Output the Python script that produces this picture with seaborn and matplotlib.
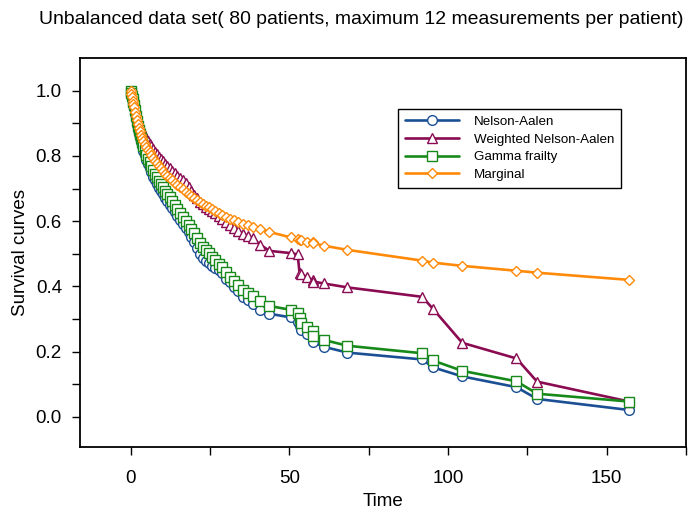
import numpy as np
import pandas as pd
import seaborn as sns
import matplotlib
matplotlib.use("Agg")
import matplotlib.pyplot as plt
from matplotlib.ticker import FixedLocator

# event times shared by all four curves
times = [0, 0.2, 0.4, 0.6, 0.8, 1.0, 1.3, 1.6, 1.9, 2.2, 2.5, 2.8, 3.2, 3.6, 4.0, 4.4,
         4.9, 5.4, 5.9, 6.4, 7.0, 7.6, 8.2, 8.8, 9.4, 10.1, 10.8, 11.5, 12.3, 13.1,
         13.9, 14.7, 15.5, 16.4, 17.3, 18.2, 19.1, 20.0, 20.9, 21.8, 22.7, 23.6, 24.6,
         25.6, 26.7, 27.8, 28.9, 30.1, 31.3, 32.5, 33.8, 35.3, 36.8, 38.4, 40.8, 43.7,
         50.5, 52.6, 53.2, 53.6, 55.4, 57.3, 57.6, 60.8, 68.3, 91.9, 95.2, 104.5,
         121.6, 128.1, 157.1]

nelson_aalen = [1.000, 0.990, 0.980, 0.970, 0.960, 0.948, 0.930, 0.912, 0.896, 0.880,
                0.866, 0.855, 0.842, 0.829, 0.815, 0.802, 0.788, 0.775, 0.763, 0.751,
                0.737, 0.726, 0.714, 0.703, 0.694, 0.683, 0.672, 0.662, 0.651, 0.639,
                0.627, 0.615, 0.603, 0.590, 0.578, 0.566, 0.551, 0.535, 0.518, 0.500,
                0.487, 0.478, 0.471, 0.464, 0.457, 0.449, 0.441, 0.422, 0.412, 0.399,
                0.385, 0.369, 0.358, 0.346, 0.328, 0.316,
                0.305, 0.292, 0.280, 0.267, 0.255, 0.238, 0.228, 0.215, 0.197, 0.176,
                0.152, 0.124, 0.091, 0.055, 0.021]

weighted_na = [1.000, 0.992, 0.984, 0.975, 0.966, 0.957, 0.945, 0.933, 0.922, 0.912,
               0.903, 0.895, 0.886, 0.878, 0.870, 0.862, 0.853, 0.845, 0.837, 0.829,
               0.820, 0.812, 0.805, 0.798, 0.791, 0.783, 0.776, 0.769, 0.762, 0.754,
               0.747, 0.740, 0.733, 0.726, 0.718, 0.706, 0.694, 0.681, 0.670, 0.660,
               0.652, 0.645, 0.638, 0.631, 0.624, 0.615, 0.606, 0.597, 0.588, 0.579,
               0.570, 0.562, 0.555, 0.548, 0.528, 0.509,
               0.502, 0.498, 0.442, 0.437, 0.430, 0.420, 0.415, 0.409, 0.397, 0.368,
               0.332, 0.227, 0.179, 0.108, 0.047]

gamma_frailty = [1.000, 0.992, 0.984, 0.975, 0.966, 0.956, 0.940, 0.923, 0.908, 0.893,
                 0.879, 0.868, 0.856, 0.844, 0.830, 0.817, 0.803, 0.791, 0.780, 0.769,
                 0.757, 0.746, 0.734, 0.723, 0.714, 0.704, 0.694, 0.684, 0.673, 0.661,
                 0.649, 0.637, 0.625, 0.612, 0.600, 0.589, 0.577, 0.563, 0.549, 0.533,
                 0.521, 0.512, 0.501, 0.490, 0.480, 0.470, 0.461, 0.443, 0.430, 0.418,
                 0.404, 0.390, 0.381, 0.370, 0.354, 0.340,
                 0.328, 0.317, 0.303, 0.289, 0.275, 0.262, 0.248, 0.236, 0.218, 0.195,
                 0.173, 0.141, 0.109, 0.071, 0.047]

marginal = [1.000, 0.990, 0.980, 0.970, 0.960, 0.950, 0.936, 0.922, 0.909, 0.897,
            0.886, 0.876, 0.864, 0.854, 0.845, 0.837, 0.828, 0.819, 0.811, 0.803,
            0.794, 0.785, 0.777, 0.769, 0.762, 0.753, 0.746, 0.739, 0.732, 0.725,
            0.718, 0.711, 0.705, 0.698, 0.691, 0.684, 0.677, 0.670, 0.664, 0.658,
            0.652, 0.647, 0.642, 0.637, 0.631, 0.625, 0.619, 0.613, 0.608, 0.603,
            0.598, 0.592, 0.587, 0.582, 0.576, 0.567,
            0.550, 0.546, 0.543, 0.541, 0.537, 0.535, 0.533, 0.525, 0.512, 0.479,
            0.473, 0.463, 0.448, 0.442, 0.420]

series_names = ["Nelson-Aalen", "Weighted Nelson-Aalen", "Gamma frailty", "Marginal"]
series_colors = ["#1b4f94", "#8a0b52", "#17891a", "#ff8a0a"]
series_markers = ["o", "^", "s", "D"]
series_sizes = [7.0, 7.0, 7.0, 5.5]

sns.set_style("ticks")
plt.rcParams["font.family"] = ["Liberation Sans", "DejaVu Sans"]
plt.rcParams["text.color"] = "black"
plt.rcParams["axes.labelcolor"] = "black"

fig = plt.figure(figsize=(6.9, 5.16), dpi=100)
ax = fig.add_axes([0.116, 0.134, 0.878, 0.754])

values = [nelson_aalen, weighted_na, gamma_frailty, marginal]
for name, vals, col, mk, ms in zip(series_names, values, series_colors,
                                   series_markers, series_sizes):
    df = pd.DataFrame({"Time": times, "S": vals})
    sns.lineplot(data=df, x="Time", y="S", ax=ax, estimator=None, sort=False,
                 color=col, marker=mk, markersize=ms, markerfacecolor="white",
                 markeredgecolor=col, markeredgewidth=1.0, linewidth=1.9,
                 label=name)

ax.set_xlim(-16, 175)
ax.set_ylim(-0.092, 1.101)
ax.set_xticks([0, 50, 100, 150])
ax.xaxis.set_minor_locator(FixedLocator([25, 75, 125, 175]))
ax.set_yticks([0.0, 0.2, 0.4, 0.6, 0.8, 1.0])
ax.set_yticklabels(["0.0", "0.2", "0.4", "0.6", "0.8", "1.0"])
ax.yaxis.set_minor_locator(FixedLocator([0.1, 0.3, 0.5, 0.7, 0.9]))
ax.tick_params(axis="both", which="both", direction="out", length=6, width=1,
               colors="black", labelsize=13.5)
ax.tick_params(axis="x", which="both", pad=11)
ax.tick_params(axis="y", which="both", pad=7)
for sp in ax.spines.values():
    sp.set_visible(True)
    sp.set_linewidth(1.3)
    sp.set_color("black")

ax.set_xlabel("Time", fontsize=13.5, labelpad=4)
ax.set_ylabel("Survival curves", fontsize=13.5, labelpad=5)
fig.text(0.524, 0.962, "Unbalanced data set( 80 patients, maximum 12 measurements per patient)",
         ha="center", va="center", fontsize=13.95)

leg = ax.legend(loc="upper left", bbox_to_anchor=(0.525, 0.868), fontsize=9.6,
                frameon=True, fancybox=False, edgecolor="black", framealpha=1,
                handlelength=4.1, labelspacing=0.4, borderpad=0.5,
                handletextpad=1.1, borderaxespad=0)
leg.get_frame().set_linewidth(1.0)

fig.savefig("out.png", dpi=100)
